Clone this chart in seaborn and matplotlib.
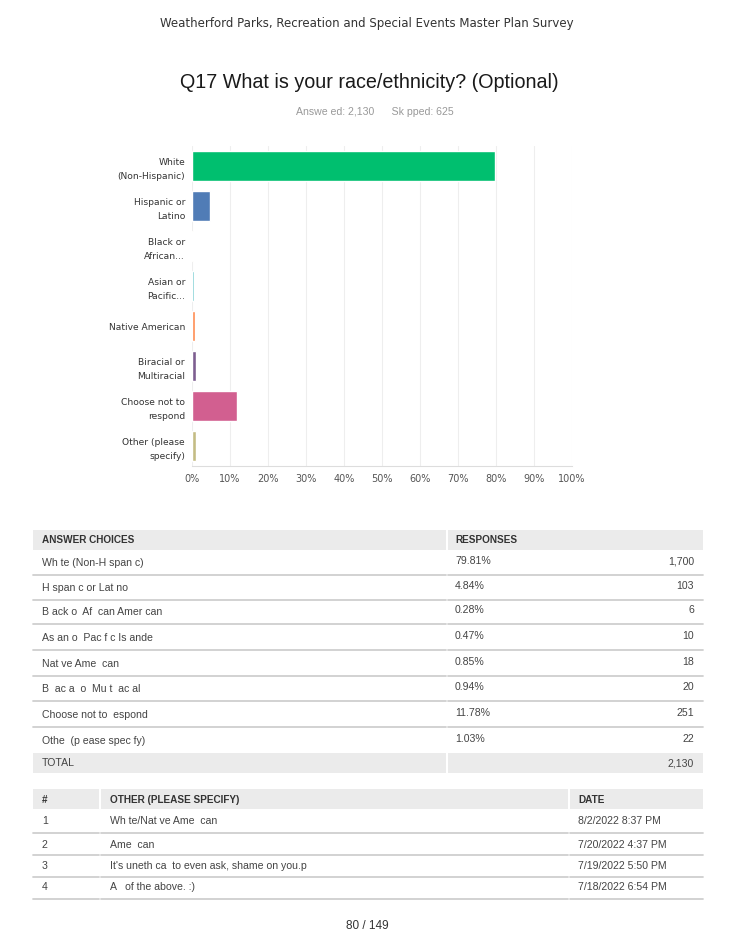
import matplotlib
matplotlib.use("Agg")
import matplotlib.pyplot as plt
import seaborn as sns
import pandas as pd

# chart data
categories = ["White\n(Non-Hispanic)", "Hispanic or\nLatino", "Black or\nAfrican...", "Asian or\nPacific...",
              "Native American", "Biracial or\nMultiracial", "Choose not to\nrespond", "Other (please\nspecify)"]
percents = [79.81, 4.84, 0.28, 0.47, 0.85, 0.94, 11.78, 1.03]
colors = ["#00BF6F", "#507CB6", "#F9BE00", "#6BC8CD", "#FF8B4F", "#7D5E90", "#D25F90", "#C4BC84"]
x_ticks = [0, 10, 20, 30, 40, 50, 60, 70, 80, 90, 100]

# table data (text as it appears on the page)
choice_labels = ["Wh te (Non-H span c)", "H span c or Lat no", "B ack o  Af  can Amer can", "As an o  Pac f c Is ande",
                 "Nat ve Ame  can", "B  ac a  o  Mu t  ac al", "Choose not to  espond", "Othe  (p ease spec fy)"]
pct_labels = ["79.81%", "4.84%", "0.28%", "0.47%", "0.85%", "0.94%", "11.78%", "1.03%"]
counts = ["1,700", "103", "6", "10", "18", "20", "251", "22"]
total = "2,130"

other_ids = ["1", "2", "3", "4"]
other_texts = ["Wh te/Nat ve Ame  can", "Ame  can", "It's uneth ca  to even ask, shame on you.p", "A   of the above. :)"]
other_dates = ["8/2/2022 8:37 PM", "7/20/2022 4:37 PM", "7/19/2022 5:50 PM", "7/18/2022 6:54 PM"]

W, H = 735, 951
fig = plt.figure(figsize=(W / 100, H / 100), dpi=100)
sns.set_style("white")
plt.rcParams["font.family"] = ["DejaVu Sans"]


def fx(px):
    return px / W


def fy(py):
    return 1 - py / H


# page header and title
fig.text(fx(367), fy(24), "Weatherford Parks, Recreation and Special Events Master Plan Survey",
         ha="center", va="center", fontsize=8.5, color="#333333")
fig.text(fx(369), fy(82), "Q17 What is your race/ethnicity? (Optional)", ha="center", va="center",
         fontsize=14.2, color="#1a1a1a", family="Liberation Sans")
fig.text(fx(375), fy(112), "Answe ed: 2,130      Sk pped: 625", ha="center", va="center",
         fontsize=7.6, color="#999999", family="Liberation Sans")

# bar chart
ax = fig.add_axes([fx(192), fy(466), fx(572) - fx(192), (466 - 146) / H])
df = pd.DataFrame({"cat": categories, "pct": percents})
sns.barplot(data=df, x="pct", y="cat", hue="cat", palette=colors, orient="h", width=0.75,
            legend=False, ax=ax, saturation=1)
ax.set_xlim(0, 100)
ax.set_ylim(7.5, -0.5)
ax.set_xticks(x_ticks)
ax.set_xticklabels([f"{t}%" for t in x_ticks], fontsize=7, color="#555555")
ax.tick_params(axis="y", labelsize=6.6, labelcolor="#333333", length=0, pad=5)
ax.tick_params(axis="x", length=0, pad=6)
for lbl in ax.get_yticklabels():
    lbl.set_horizontalalignment("right")
    lbl.set_multialignment("right")
    lbl.set_linespacing(1.75)
ax.set_xlabel("")
ax.set_ylabel("")
ax.grid(axis="x", color="#eeeeee", linewidth=0.8)
ax.set_axisbelow(True)
for s in ["top", "right", "left"]:
    ax.spines[s].set_visible(False)
ax.spines["bottom"].set_color("#dddddd")

# overlay axes for tables, in pixel coordinates
tax = fig.add_axes([0, 0, 1, 1])
tax.set_xlim(0, W)
tax.set_ylim(H, 0)
tax.axis("off")
tf = dict(family="Liberation Sans", color="#444444", fontsize=7.6, va="center")
hf = dict(family="Liberation Sans", color="#333333", fontsize=7.2, va="center", fontweight="bold")
gray_bg = "#ebebeb"
line_c = "#cfcfcf"

# answer table
tax.add_patch(plt.Rectangle((33, 530), 413, 20, color=gray_bg, lw=0))
tax.add_patch(plt.Rectangle((448, 530), 255, 20, color=gray_bg, lw=0))
tax.text(42, 540, "ANSWER CHOICES", **hf)
tax.text(455, 540, "RESPONSES", **hf)
row_y = [563, 588, 612, 638, 664, 689, 715, 741]
for i, yy in enumerate(row_y):
    tax.text(42, yy, choice_labels[i], **tf)
    tax.text(455, yy - 2, pct_labels[i], **tf)
    tax.text(694, yy - 2, counts[i], ha="right", **tf)
    sep = yy + 12
    if i < len(row_y) - 1:
        tax.plot([33, 446], [sep, sep], color=line_c, lw=1.3)
        tax.plot([448, 703], [sep, sep], color=line_c, lw=1.3)
tax.add_patch(plt.Rectangle((33, 753), 413, 20, color=gray_bg, lw=0))
tax.add_patch(plt.Rectangle((448, 753), 255, 20, color=gray_bg, lw=0))
tax.text(42, 763, "TOTAL", **tf)
tax.text(694, 763, total, ha="right", **tf)

# other (please specify) table
tax.add_patch(plt.Rectangle((33, 789), 66, 20, color=gray_bg, lw=0))
tax.add_patch(plt.Rectangle((101, 789), 467, 20, color=gray_bg, lw=0))
tax.add_patch(plt.Rectangle((570, 789), 133, 20, color=gray_bg, lw=0))
tax.text(42, 800, "#", **hf)
tax.text(110, 800, "OTHER (PLEASE SPECIFY)", **hf)
tax.text(578, 800, "DATE", **hf)
o_y = [821, 845, 866, 887]
o_sep = [833, 855, 877, 899]
for i, yy in enumerate(o_y):
    tax.text(42, yy, other_ids[i], **tf)
    tax.text(110, yy, other_texts[i], **tf)
    tax.text(578, yy, other_dates[i], **tf)
    s = o_sep[i]
    tax.plot([33, 99], [s, s], color=line_c, lw=1.3)
    tax.plot([101, 568], [s, s], color=line_c, lw=1.3)
    tax.plot([570, 703], [s, s], color=line_c, lw=1.3)

fig.text(fx(367), fy(926), "80 / 149", ha="center", va="center", fontsize=8.5, color="#333333",
         family="Liberation Sans")

fig.savefig("out.png", dpi=100, facecolor="white")
